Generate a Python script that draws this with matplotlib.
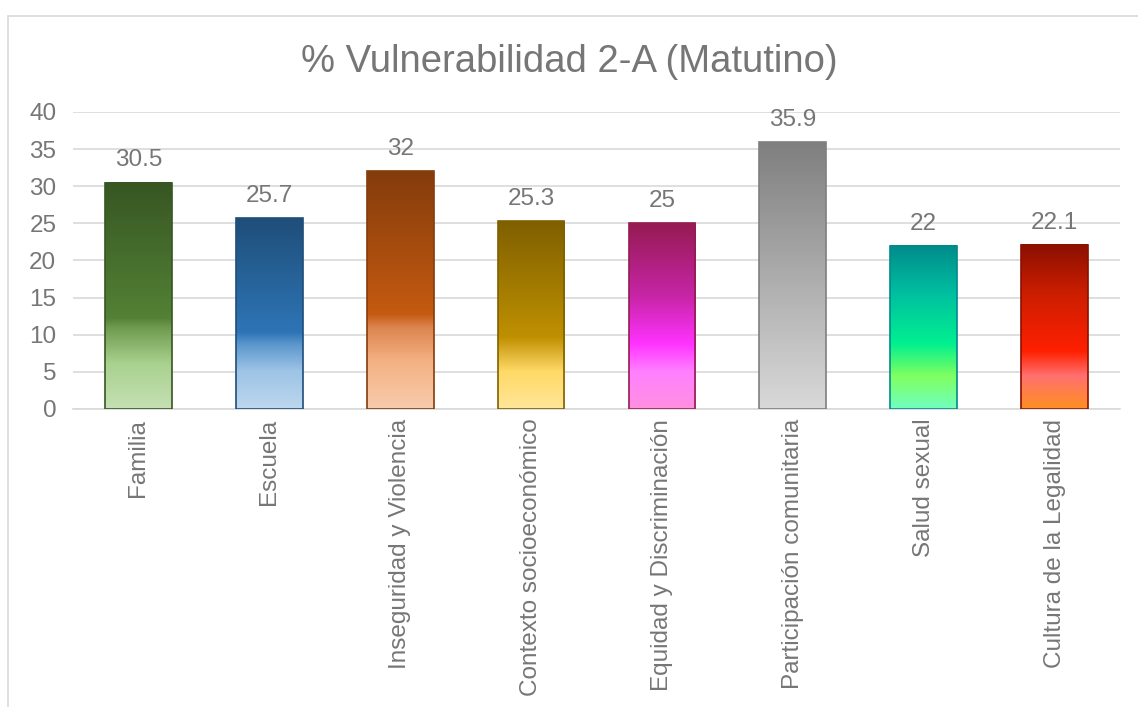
import matplotlib
matplotlib.use("Agg")
import matplotlib.pyplot as plt
import numpy as np
from matplotlib.colors import LinearSegmentedColormap
from matplotlib.patches import Rectangle

plt.rcParams['font.family'] = ['Liberation Sans', 'DejaVu Sans']

categories = ["Familia", "Escuela", "Inseguridad y Violencia", "Contexto socioeconómico",
              "Equidad y Discriminación", "Participación comunitaria", "Salud sexual",
              "Cultura de la Legalidad"]
values = [30.5, 25.7, 32, 25.3, 25, 35.9, 22, 22.1]
value_labels = ["30.5", "25.7", "32", "25.3", "25", "35.9", "22", "22.1"]

# gradient stops per bar, (position from bottom, colour)
gradients = [
    [(0.0, "#C5E0B4"), (0.2, "#A9D18E"), (0.36, "#6E9A4E"), (0.4, "#538135"), (1.0, "#375623")],
    [(0.0, "#BDD7EE"), (0.2, "#9DC3E6"), (0.34, "#5A96CC"), (0.4, "#2E75B6"), (1.0, "#1F4E79")],
    [(0.0, "#F8CBAD"), (0.2, "#F4B183"), (0.34, "#DC8650"), (0.4, "#C55A11"), (1.0, "#843C0C")],
    [(0.0, "#FFE699"), (0.2, "#FFD966"), (0.3, "#DDB030"), (0.38, "#BF9000"), (1.0, "#7F6000")],
    [(0.0, "#FF90E0"), (0.2, "#FF80FF"), (0.35, "#FF33FF"), (0.6, "#C825A8"), (1.0, "#951B52")],
    [(0.0, "#D9D9D9"), (1.0, "#7F7F7F")],
    [(0.0, "#70FFC0"), (0.2, "#80FF60"), (0.4, "#00F090"), (0.7, "#00C0A0"), (1.0, "#008B8B")],
    [(0.0, "#FF9020"), (0.2, "#FF7070"), (0.35, "#FF2000"), (0.7, "#CC1E00"), (1.0, "#8B1000")],
]
edges = ["#375623", "#1F4E79", "#843C0C", "#7F6000", "#951B52", "#7F7F7F", "#008B8B", "#8B1000"]
txt = "#767676"

fig = plt.figure(figsize=(11.38, 7.07), dpi=100)
fig.patches.append(Rectangle((8 / 1138, -0.05), 1.2, 1 - 16 / 707 + 0.05, transform=fig.transFigure,
                             fill=False, edgecolor="#D9D9D9", linewidth=1.2))
ax = fig.add_axes([0.0641, 0.4215, 0.9201, 0.4201])

x = np.arange(len(categories))
width = 0.51
grad = np.linspace(0, 1, 256).reshape(-1, 1)
for i, v in enumerate(values):
    cmap = LinearSegmentedColormap.from_list(f"g{i}", gradients[i])
    ax.imshow(grad, cmap=cmap, origin="lower", aspect="auto",
              extent=(x[i] - width / 2, x[i] + width / 2, 0, v), zorder=2)
    ax.bar(x[i], v, width=width, facecolor="none", edgecolor=edges[i], linewidth=1.2, zorder=3)
    ax.text(x[i], v + 1.5, value_labels[i], ha="center", va="bottom", fontsize=17.5, color=txt)

ax.set_xlim(-0.5, len(categories) - 0.5)
ax.set_ylim(0, 40)
ax.set_yticks(range(0, 41, 5))
ax.yaxis.grid(True, color="#D9D9D9", linewidth=1.2, zorder=0)
ax.set_axisbelow(True)
for s in ["top", "right", "left"]:
    ax.spines[s].set_visible(False)
ax.spines["bottom"].set_color("#D9D9D9")
ax.spines["bottom"].set_linewidth(1.2)
ax.set_xticks(x)
ax.set_xticklabels(categories, rotation=90, fontsize=17.5, color=txt)
ax.tick_params(axis="both", length=0, labelsize=17.5, colors=txt)
ax.tick_params(axis="y", pad=12)
ax.tick_params(axis="x", pad=7)
fig.text(0.5, 1 - 62 / 707, "% Vulnerabilidad 2-A (Matutino)", ha="center", va="center",
         fontsize=27.5, color=txt)

fig.savefig("out.png", dpi=100)
